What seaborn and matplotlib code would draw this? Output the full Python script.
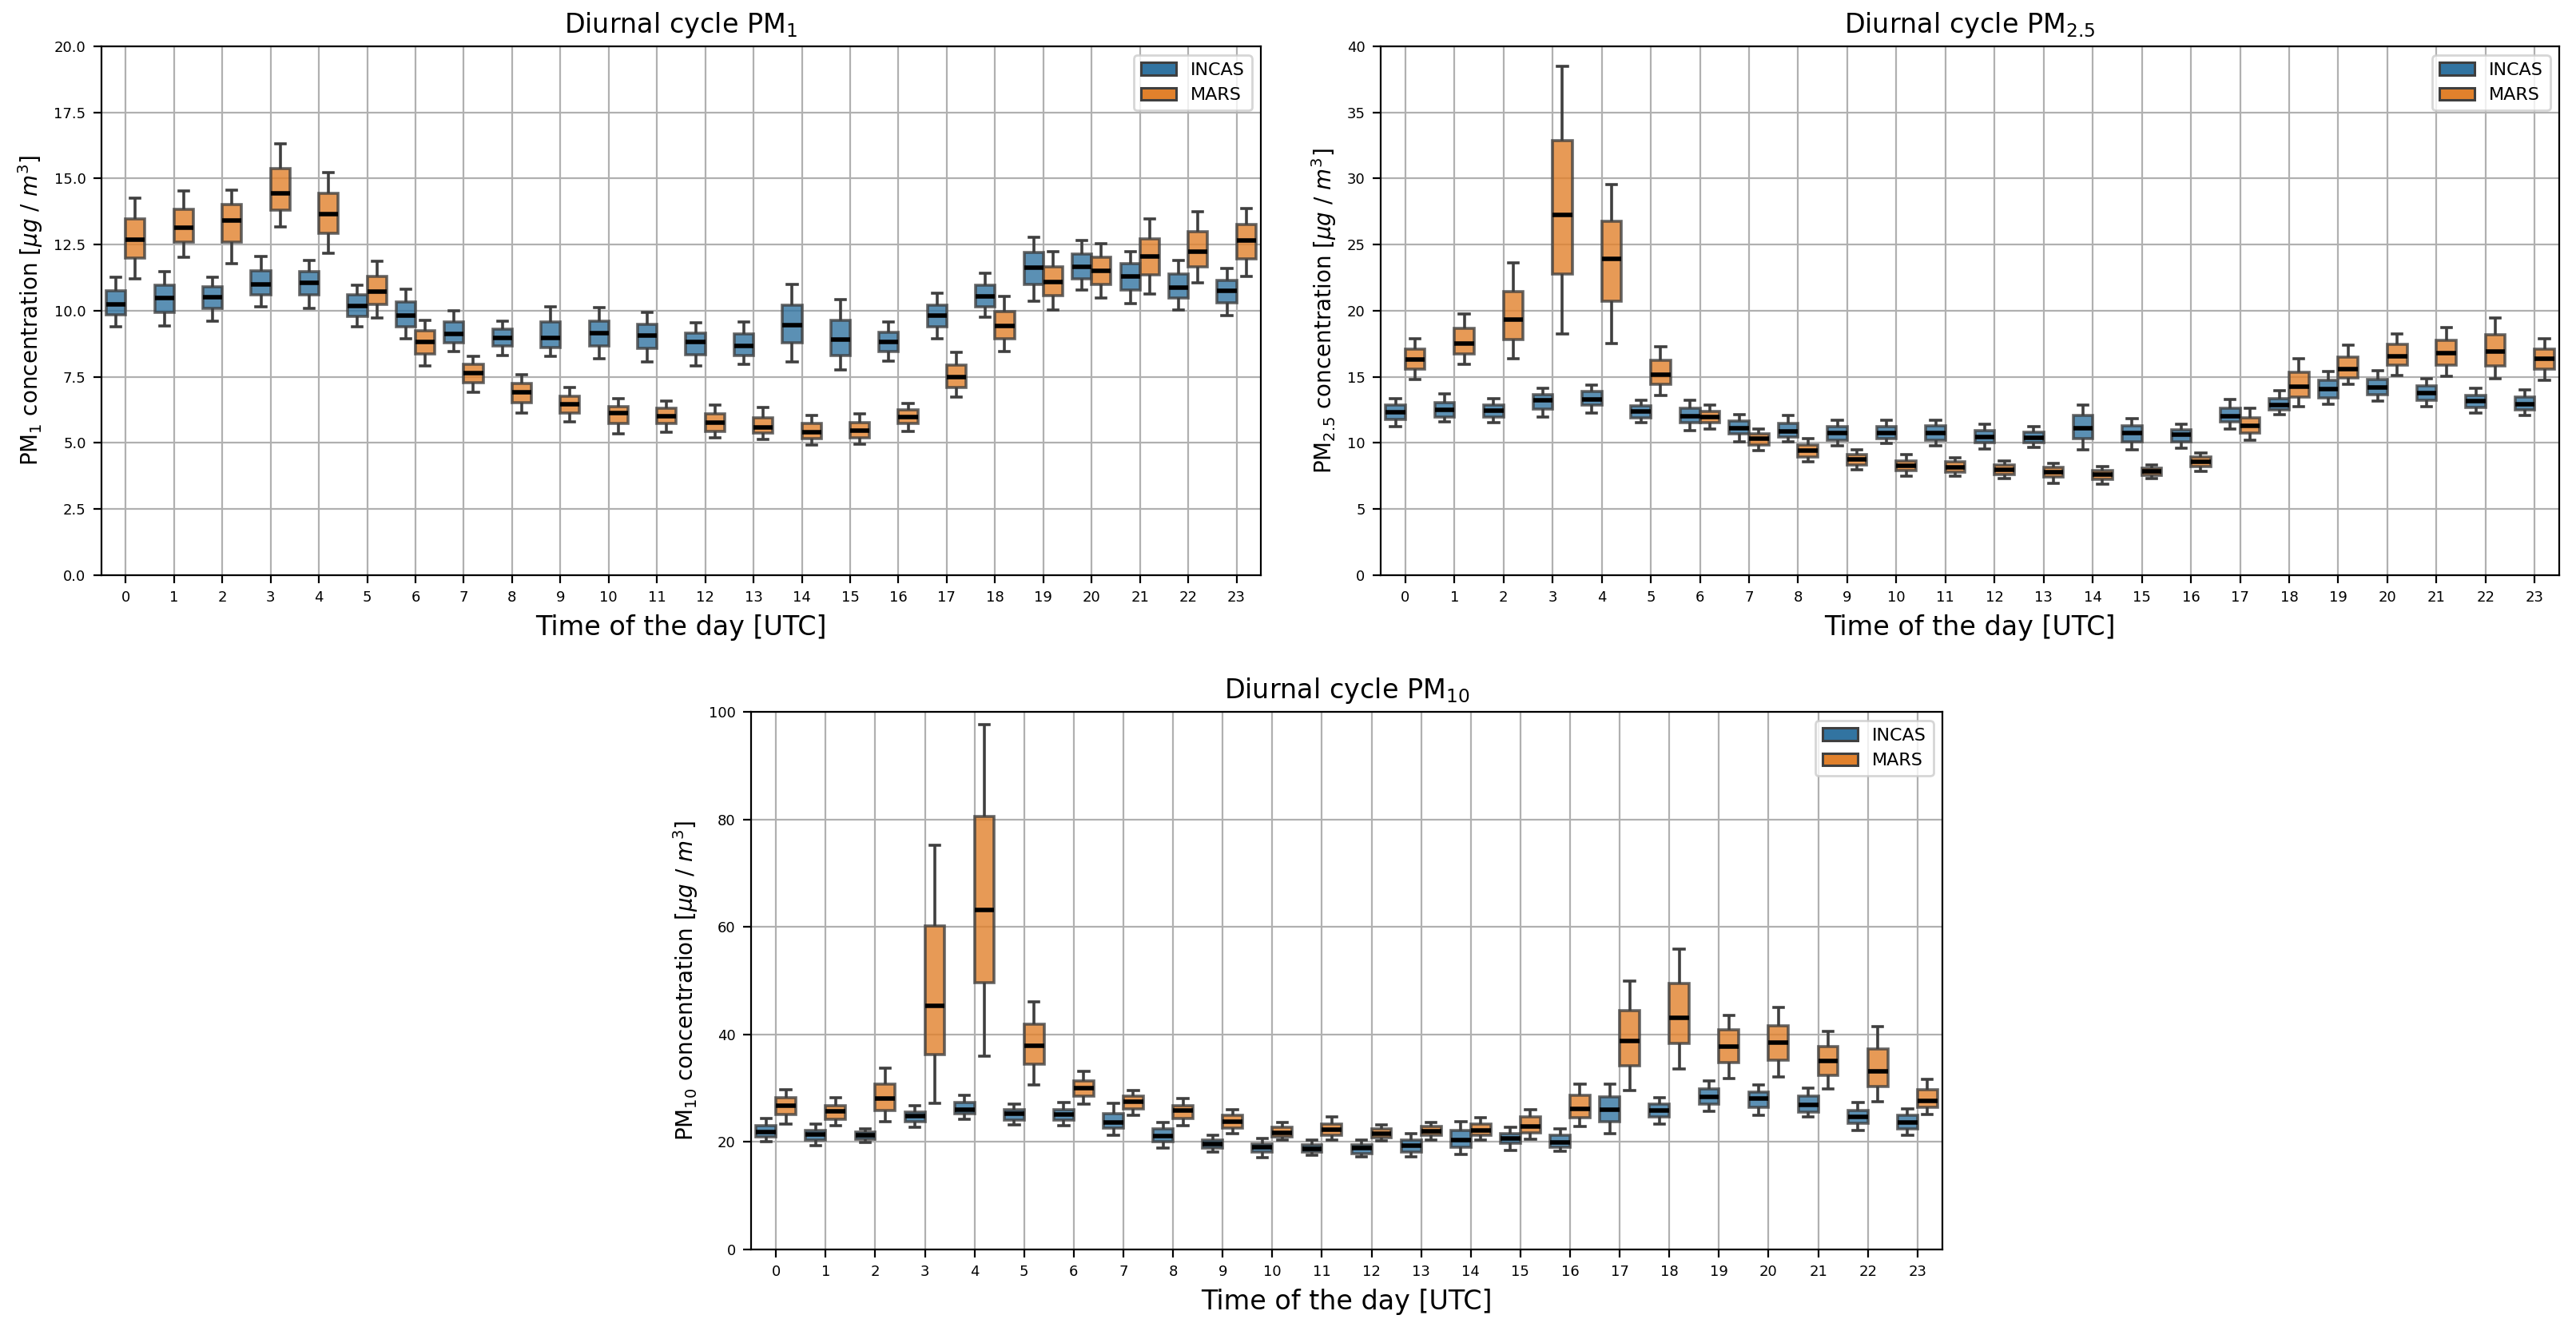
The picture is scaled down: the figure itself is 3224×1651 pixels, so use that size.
import numpy as np
import pandas as pd
import seaborn as sns
import matplotlib.pyplot as plt
from matplotlib.patches import Patch

###
### DATA: five-number summaries (whisker low, Q1, median, Q3, whisker high)
###

hours = list(range(24))
stations = ['INCAS', 'MARS']

pm1_incas = [
    (9.39, 9.85, 10.25, 10.76, 11.28), (9.44, 9.95, 10.47, 10.98, 11.49),
    (9.60, 10.08, 10.52, 10.91, 11.27), (10.15, 10.59, 11.00, 11.52, 12.06),
    (10.08, 10.59, 11.06, 11.49, 11.91), (9.38, 9.78, 10.19, 10.61, 10.98),
    (8.93, 9.39, 9.81, 10.32, 10.80), (8.46, 8.78, 9.11, 9.59, 10.01),
    (8.32, 8.66, 8.98, 9.29, 9.62), (8.28, 8.62, 8.98, 9.59, 10.15),
    (8.20, 8.66, 9.14, 9.61, 10.12), (8.08, 8.58, 9.06, 9.49, 9.93),
    (7.92, 8.34, 8.81, 9.16, 9.55), (7.97, 8.30, 8.68, 9.11, 9.59),
    (8.08, 8.78, 9.45, 10.20, 10.99), (7.76, 8.31, 8.90, 9.65, 10.41),
    (8.11, 8.46, 8.81, 9.17, 9.59), (8.94, 9.39, 9.81, 10.20, 10.65),
    (9.75, 10.15, 10.54, 10.97, 11.41), (10.36, 11.00, 11.63, 12.19, 12.79),
    (10.78, 11.22, 11.67, 12.14, 12.65), (10.26, 10.77, 11.29, 11.77, 12.24),
    (10.04, 10.48, 10.87, 11.38, 11.89), (9.83, 10.29, 10.74, 11.16, 11.60),
]
pm1_mars = [
    (11.22, 11.99, 12.70, 13.46, 14.27), (12.03, 12.59, 13.14, 13.83, 14.52),
    (11.77, 12.61, 13.42, 14.01, 14.57), (13.16, 13.80, 14.44, 15.38, 16.31),
    (12.18, 12.92, 13.65, 14.43, 15.23), (9.73, 10.25, 10.72, 11.29, 11.87),
    (7.90, 8.37, 8.83, 9.24, 9.63), (6.93, 7.29, 7.64, 7.97, 8.28),
    (6.14, 6.52, 6.91, 7.24, 7.58), (5.81, 6.14, 6.45, 6.77, 7.10),
    (5.35, 5.73, 6.14, 6.38, 6.67), (5.42, 5.74, 6.00, 6.32, 6.60),
    (5.19, 5.45, 5.77, 6.10, 6.44), (5.13, 5.38, 5.58, 5.94, 6.34),
    (4.93, 5.16, 5.41, 5.73, 6.03), (4.94, 5.20, 5.48, 5.77, 6.09),
    (5.45, 5.74, 5.97, 6.24, 6.51), (6.73, 7.11, 7.50, 7.94, 8.44),
    (8.46, 8.94, 9.42, 9.96, 10.55), (10.04, 10.57, 11.10, 11.67, 12.24),
    (10.48, 11.00, 11.51, 12.03, 12.53), (10.64, 11.37, 12.06, 12.73, 13.47),
    (11.06, 11.67, 12.24, 12.99, 13.75), (11.29, 11.95, 12.66, 13.26, 13.88),
]

pm25_incas = [
    (11.26, 11.78, 12.31, 12.86, 13.35), (11.61, 11.99, 12.48, 13.08, 13.70),
    (11.55, 11.99, 12.42, 12.89, 13.38), (11.96, 12.57, 13.21, 13.64, 14.11),
    (12.28, 12.86, 13.32, 13.88, 14.40), (11.52, 11.93, 12.36, 12.80, 13.24),
    (10.94, 11.52, 12.01, 12.63, 13.24), (10.10, 10.68, 11.14, 11.69, 12.16),
    (10.07, 10.44, 10.85, 11.46, 12.09), (9.77, 10.21, 10.76, 11.23, 11.74),
    (9.98, 10.33, 10.76, 11.26, 11.74), (9.80, 10.21, 10.73, 11.29, 11.75),
    (9.57, 10.01, 10.47, 10.91, 11.43), (9.69, 10.04, 10.41, 10.82, 11.23),
    (9.51, 10.33, 11.14, 12.07, 12.86), (9.51, 10.10, 10.73, 11.32, 11.87),
    (9.63, 10.12, 10.62, 11.02, 11.43), (11.08, 11.61, 12.04, 12.65, 13.27),
    (12.16, 12.48, 12.86, 13.38, 13.93), (12.92, 13.44, 14.08, 14.72, 15.42),
    (13.18, 13.67, 14.20, 14.81, 15.48), (12.74, 13.21, 13.79, 14.31, 14.84),
    (12.25, 12.68, 13.15, 13.61, 14.11), (12.07, 12.51, 12.92, 13.50, 13.99),
]
pm25_mars = [
    (14.80, 15.59, 16.32, 17.10, 17.89), (15.97, 16.76, 17.54, 18.65, 19.75),
    (16.35, 17.83, 19.35, 21.47, 23.62), (18.24, 22.75, 27.26, 32.84, 38.49),
    (17.54, 20.71, 23.91, 26.76, 29.56), (13.61, 14.46, 15.16, 16.23, 17.25),
    (11.03, 11.52, 11.99, 12.36, 12.86), (9.43, 9.83, 10.33, 10.71, 11.05),
    (8.55, 8.96, 9.45, 9.86, 10.33), (8.00, 8.35, 8.79, 9.13, 9.48),
    (7.48, 7.91, 8.26, 8.61, 9.11), (7.48, 7.80, 8.17, 8.55, 8.90),
    (7.33, 7.62, 8.00, 8.32, 8.67), (6.95, 7.42, 7.80, 8.15, 8.47),
    (6.87, 7.27, 7.59, 7.91, 8.20), (7.33, 7.56, 7.83, 8.09, 8.32),
    (7.85, 8.20, 8.58, 8.93, 9.25), (10.21, 10.73, 11.29, 11.93, 12.60),
    (12.74, 13.47, 14.25, 15.36, 16.35), (14.43, 14.95, 15.59, 16.49, 17.40),
    (15.10, 15.88, 16.58, 17.45, 18.24), (15.04, 15.91, 16.81, 17.77, 18.71),
    (14.87, 15.85, 16.90, 18.18, 19.46), (14.75, 15.59, 16.38, 17.10, 17.89),
]

pm10_incas = [
    (20.0, 20.9, 21.9, 23.1, 24.3), (19.3, 20.4, 21.4, 22.2, 23.3),
    (19.9, 20.5, 21.2, 21.9, 22.5), (22.7, 23.8, 24.8, 25.6, 26.7),
    (24.2, 25.2, 26.0, 27.4, 28.7), (23.2, 24.1, 25.2, 26.0, 27.0),
    (23.0, 24.0, 25.1, 26.0, 27.3), (21.3, 22.6, 23.6, 25.3, 27.2),
    (18.9, 20.1, 21.1, 22.4, 23.6), (18.1, 18.8, 19.6, 20.4, 21.2),
    (17.1, 18.1, 19.0, 19.6, 20.6), (17.5, 18.1, 18.7, 19.5, 20.3),
    (17.3, 17.9, 18.8, 19.5, 20.4), (17.3, 18.2, 19.3, 20.3, 21.6),
    (17.7, 19.0, 20.4, 22.1, 23.8), (18.4, 19.7, 20.6, 21.6, 22.7),
    (18.3, 19.0, 19.9, 21.2, 22.5), (21.6, 23.8, 26.0, 28.4, 30.7),
    (23.4, 24.7, 25.8, 27.0, 28.3), (25.7, 27.1, 28.4, 29.8, 31.3),
    (24.9, 26.5, 28.1, 29.3, 30.6), (24.6, 25.5, 26.9, 28.6, 30.0),
    (22.1, 23.5, 24.7, 25.9, 27.3), (21.3, 22.5, 23.6, 24.9, 26.2),
]
pm10_mars = [
    (23.4, 25.1, 26.8, 28.2, 29.7), (23.1, 24.2, 25.7, 26.8, 28.2),
    (23.8, 25.9, 28.1, 30.8, 33.8), (27.2, 36.2, 45.3, 60.2, 75.2),
    (35.9, 49.6, 63.2, 80.5, 97.7), (30.6, 34.4, 37.9, 41.9, 46.1),
    (27.1, 28.6, 30.0, 31.4, 33.2), (24.9, 26.2, 27.5, 28.5, 29.6),
    (23.1, 24.4, 25.9, 26.8, 28.1), (21.5, 22.6, 23.8, 24.9, 26.0),
    (20.3, 21.0, 21.7, 22.7, 23.6), (20.3, 21.2, 22.3, 23.4, 24.7),
    (20.2, 20.8, 21.5, 22.4, 23.2), (20.4, 21.2, 22.0, 22.9, 23.6),
    (20.3, 21.2, 22.1, 23.3, 24.5), (20.5, 21.7, 22.9, 24.6, 26.0),
    (22.9, 24.5, 26.2, 28.7, 30.8), (29.6, 34.2, 38.8, 44.4, 50.0),
    (33.6, 38.4, 43.1, 49.5, 55.8), (31.8, 34.8, 37.8, 40.8, 43.6),
    (32.1, 35.2, 38.5, 41.6, 45.0), (29.8, 32.4, 35.1, 37.7, 40.6),
    (27.5, 30.3, 33.2, 37.3, 41.4), (25.1, 26.5, 27.7, 29.7, 31.7),
]

panel_titles = ['Diurnal cycle PM$_1$', 'Diurnal cycle PM$_{2.5}$', 'Diurnal cycle PM$_{10}$']
panel_ylabels = ['PM$_1$ concentration [$\\mu g$ / $m^3$]',
                 'PM$_{2.5}$ concentration [$\\mu g$ / $m^3$]',
                 'PM$_{10}$ concentration [$\\mu g$ / $m^3$]']
panel_ymax = [20, 40, 100]
panel_series = [(pm1_incas, pm1_mars), (pm25_incas, pm25_mars), (pm10_incas, pm10_mars)]

base_colors = ['#1f77b4', '#ff7f0e']
line_col = '#3f3f3f'


def to_long(incas, mars):
    ### each summary becomes five points; whiskers then span min..max
    rows = []
    for name, summ in zip(stations, (incas, mars)):
        for h, vals in zip(hours, summ):
            for v in vals:
                rows.append((h, name, v))
    return pd.DataFrame(rows, columns=['hour', 'station', 'value'])


###
### PLOT
###

fig = plt.figure(figsize=(16.12, 8.255), dpi=200)
axes = [fig.add_axes([0.0394, 0.5639, 0.4500, 0.4010]),
        fig.add_axes([0.5360, 0.5639, 0.4575, 0.4010]),
        fig.add_axes([0.2916, 0.0527, 0.4624, 0.4076])]

for ax, (incas, mars), title, ylab, ymax in zip(axes, panel_series, panel_titles,
                                                panel_ylabels, panel_ymax):
    df = to_long(incas, mars)
    sns.boxplot(data=df, x='hour', y='value', hue='station', hue_order=stations,
                palette=base_colors, whis=(0, 100), showfliers=False,
                width=0.8, linewidth=1.3, linecolor=line_col,
                boxprops={'alpha': 0.8},
                medianprops={'color': 'black', 'linewidth': 2.0},
                legend=False, ax=ax)
    ax.set_ylim(0, ymax)
    ax.grid(True, color='#b0b0b0', linewidth=0.8)
    ax.set_title(title, fontsize=12)
    ax.set_xlabel('Time of the day [UTC]', fontsize=12)
    ax.set_ylabel(ylab, fontsize=10)
    ax.tick_params(labelsize=6.5)
    handles = [Patch(facecolor=sns.desaturate(c, 0.75), edgecolor=line_col, linewidth=1.1,
                     label=s) for c, s in zip(base_colors, stations)]
    ax.legend(handles=handles, loc='upper right', fontsize=8)

fig.savefig('out.png', dpi=200)
